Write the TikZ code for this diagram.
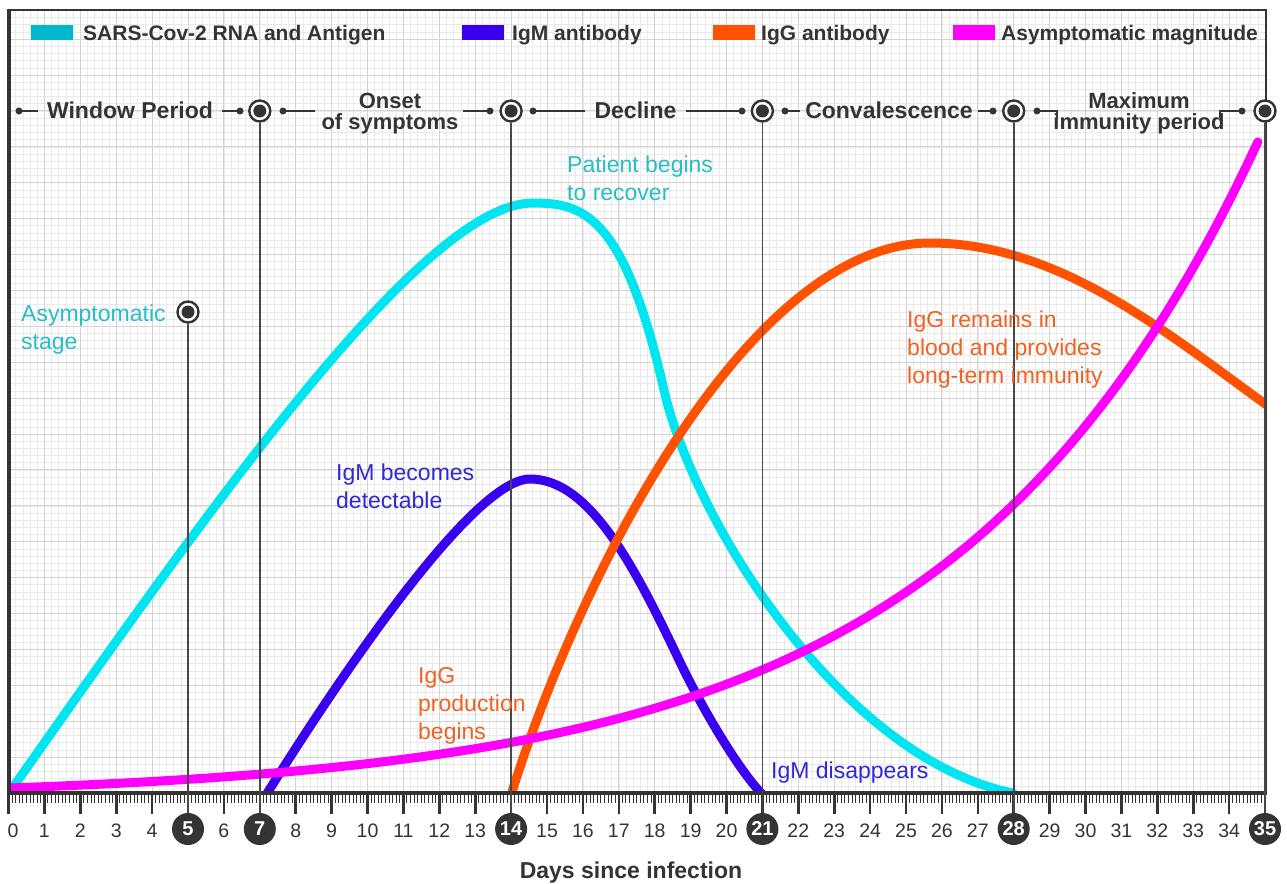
\documentclass[tikz,border=0pt]{standalone}
\usepackage{fontspec}
\setmainfont{Liberation Sans}
\definecolor{cyc}{RGB}{0,229,240}
\definecolor{cysw}{RGB}{0,184,206}
\definecolor{cytx}{RGB}{40,190,196}
\definecolor{igm}{RGB}{56,0,238}
\definecolor{igmtx}{RGB}{48,40,214}
\definecolor{igg}{RGB}{255,82,0}
\definecolor{iggtx}{RGB}{240,98,34}
\definecolor{mag}{RGB}{255,0,255}
\definecolor{dk}{RGB}{52,52,52}
\definecolor{vl}{RGB}{72,72,72}
\definecolor{gmi}{RGB}{234,234,234}
\definecolor{gma}{RGB}{212,212,212}
\begin{document}
\begin{tikzpicture}[x=1pt,y=-1pt,
  curve/.style={line width=9pt, line cap=round, line join=round},
  vline/.style={draw=vl, line width=1.6pt},
  ring/.style={circle, draw=dk, line width=2.4pt, fill=white, minimum size=21pt, inner sep=0pt},
  core/.style={circle, fill=dk, minimum size=13pt, inner sep=0pt},
  sdot/.style={circle, fill=dk, minimum size=7pt, inner sep=0pt},
  conn/.style={draw=dk, line width=1.8pt},
  phase/.style={font=\fontsize{23}{21.5}\selectfont\bfseries, text=dk, align=center, inner sep=0pt},
  phasetwo/.style={font=\fontsize{22}{21.5}\selectfont\bfseries, text=dk, align=center, inner sep=0pt},
  legtxt/.style={font=\fontsize{21}{24}\selectfont\bfseries, text=dk, anchor=base west, inner sep=0pt},
  swatch/.style={minimum width=42pt, minimum height=15pt, inner sep=0pt, anchor=west},
  ticklab/.style={font=\fontsize{19.5}{22}\selectfont, text=dk, inner sep=0pt, anchor=base},
  daycirc/.style={circle, fill=dk, minimum size=32pt, inner sep=0pt, text=white, font=\fontsize{20}{22}\selectfont\bfseries},
  lab/.style={font=\fontsize{23}{28}\selectfont, align=left, anchor=west, inner sep=0pt},
  gminor/.style={draw=gmi, line width=0.6pt},
  gmajor/.style={draw=gma, line width=0.9pt},
  mtick/.style={draw=dk, line width=1pt},
  btick/.style={draw=dk, line width=2.6pt}
]
\useasboundingbox (0,0) rectangle (1287,883);
\fill[white] (0,0) rectangle (1287,883);

% grid
\begin{scope}
\clip (8.5,10) rectangle (1266,793);
\foreach \i in {0,...,176} \draw[gminor] ({8.5+7.18*\i},10) -- ++(0,783);
\foreach \j in {0,...,110} \draw[gminor] (8.5,{793-7.18*\j}) -- ++(1258,0);
\foreach \i in {0,...,35} \draw[gmajor] ({8.5+35.9*\i},10) -- ++(0,783);
\foreach \j in {0,...,22} \draw[gmajor] (8.5,{793-35.9*\j}) -- ++(1258,0);
\end{scope}

% curves
\begin{scope}
\clip (8.5,10) rectangle (1266,793);
% IgM
\draw[curve, igm] (266,795) .. controls (326,699) and (470,479) .. (530,479)
  .. controls (590,479) and (635,567.5) .. (680,662)
  .. controls (700,704) and (738,770) .. (763,795);
% SARS-CoV-2
\draw[curve, cyc] (9,793) .. controls (209,509) and (423,203) .. (533,203)
  .. controls (583,203) and (624,214) .. (664,390)
  .. controls (694,522) and (843,759) .. (1013,793);
% IgG
\draw[curve, igg] (511,795) .. controls (581,571) and (750,243) .. (930,243)
  .. controls (1060,243) and (1168,334) .. (1268,406);
% asymptomatic magnitude
\draw[curve, mag] plot[domain=0:34.8, samples=120, smooth] ({8.5+35.9*\x},{793-(10.82*(exp(0.118*\x)-1)+5)});
\end{scope}

% frame, axis
\draw[dk, line width=2.2pt] (8.5,10) -- (1266,10) -- (1266,793);
\draw[dk, line width=4pt] (8.5,8.9) -- (8.5,795);
\draw[dk, line width=4pt] (6.5,793) -- (1267,793);
\foreach \i in {0,...,350} \draw[mtick] ({8.5+3.59*\i},794) -- ++(0,9);
\foreach \i in {0,...,35} \draw[btick] ({8.5+35.9*\i},794) -- ++(0,20);

% tick labels
\node[ticklab] (l0) at (13,837) {0};
\foreach \d in {1,2,3,4,6,8,9,10,11,12,13,15,16,17,18,19,20,22,23,24,25,26,27,29,30,31,32,33,34}
  \node[ticklab] (l\d) at ({8.5+35.9*\d},837) {\d};
\foreach \d in {5,7,14,21,28,35}
  \node[daycirc] (c\d) at ({8.5+35.9*\d},829) {\d};
\node[font=\fontsize{23}{26}\selectfont\bfseries, text=dk, anchor=base, inner sep=0pt] (title) at (631,878) {Days since infection};

% rings
\node[ring] (r5) at (188,312) {};
\node[core] (k5) at (r5) {};
\foreach \d in {7,14,21,28,35} {
  \node[ring] (r\d) at ({8.5+35.9*\d},111) {};
  \node[core] (k\d) at (r\d) {};
}
\foreach \d in {5,7,14,21,28,35} \draw[vline] (r\d) -- (c\d);

% legend
\node[swatch, fill=cysw] (s1) at (31,33) {};
\node[legtxt] (g1) at (83,40.5) {SARS-Cov-2 RNA and Antigen};
\node[swatch, fill=igm] (s2) at (462,33) {};
\node[legtxt] (g2) at (512,40.5) {IgM antibody};
\node[swatch, fill=igg] (s3) at (713,33) {};
\node[legtxt] (g3) at (761,40.5) {IgG antibody};
\node[swatch, fill=mag] (s4) at (953,33) {};
\node[legtxt] (g4) at (1001,40.5) {Asymptomatic magnitude};

% phase row
\node[sdot] (a1) at (19,111) {};
\coordinate (a1e) at (38,111);
\draw[conn] (a1.center) -- (a1e);
\node[phase, anchor=base] (t1) at (130,118.2) {Window Period};
\coordinate (a2s) at (222,111);
\node[sdot] (a2) at (240,111) {};
\draw[conn] (a2s) -- (a2.center);
\node[sdot] (a3) at (283,111) {};
\coordinate (a3e) at (315,111);
\draw[conn] (a3.center) -- (a3e);
\node[phasetwo] (t2) at (390,113.5) {Onset\\of symptoms};
\coordinate (a4s) at (463,111);
\node[sdot] (a4) at (490,111) {};
\draw[conn] (a4s) -- (a4.center);
\node[sdot] (a5) at (533,111) {};
\coordinate (a5e) at (585,111);
\draw[conn] (a5.center) -- (a5e);
\node[phase, anchor=base] (t3) at (635.5,118.2) {Decline};
\coordinate (a6s) at (686,111);
\node[sdot] (a6) at (742,111) {};
\draw[conn] (a6s) -- (a6.center);
\node[sdot] (a7) at (785,111) {};
\coordinate (a7e) at (800,111);
\draw[conn] (a7.center) -- (a7e);
\node[phase, anchor=base] (t4) at (889,118.2) {Convalescence};
\coordinate (a8s) at (978,111);
\node[sdot] (a8) at (993,111) {};
\draw[conn] (a8s) -- (a8.center);
\node[sdot] (a9) at (1037,111) {};
\coordinate (a9e) at (1057,118);
\draw[conn] (a9.center) -| (a9e);
\node[phasetwo] (t5) at (1139,113.5) {Maximum\\immunity period};
\coordinate (a10s) at (1220,118);
\node[sdot] (a10) at (1242,111) {};
\draw[conn] (a10s) |- (a10.center);

% annotations
\node[lab, text=cytx] (n1) at (21,329.8) {Asymptomatic\\stage};
\node[lab, text=cytx] (n2) at (567,178.5) {Patient begins\\to recover};
\node[lab, text=igmtx] (n3) at (336,486.5) {IgM becomes\\detectable};
\node[lab, text=iggtx] (n4) at (418,706) {IgG\\production\\begins};
\node[lab, text=iggtx] (n5) at (907,350) {IgG remains in\\blood and provides\\long-term immunity};
\node[lab, text=igmtx] (n6) at (771,773) {IgM disappears};
\end{tikzpicture}
\end{document}
